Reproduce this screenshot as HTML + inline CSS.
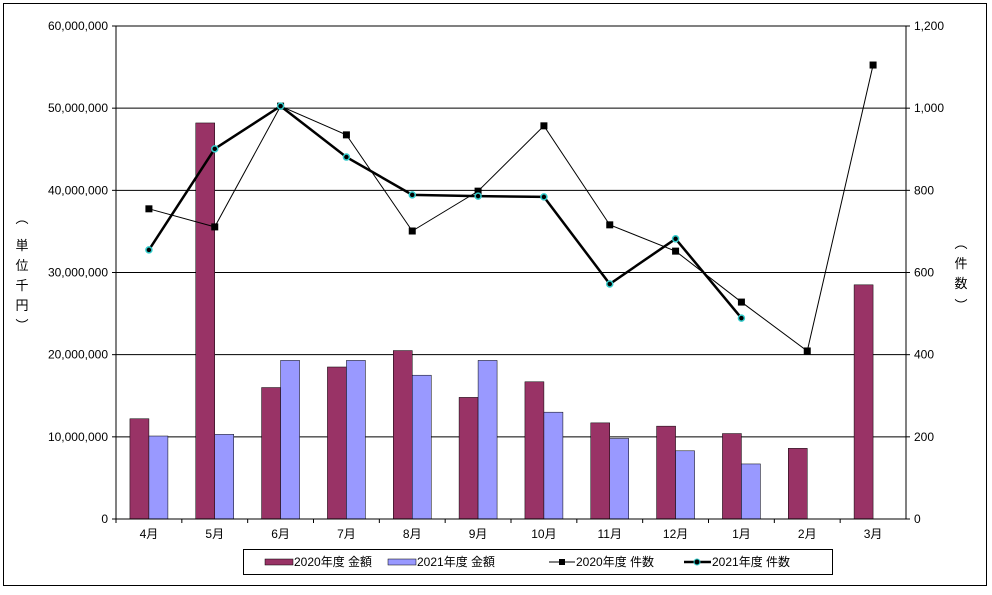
<!DOCTYPE html>
<html><head><meta charset="utf-8"><style>
body{margin:0;background:#fff;font-family:"Liberation Sans","Noto Sans CJK JP",sans-serif;}
</style></head><body>
<svg id="c" width="992" height="590" xmlns="http://www.w3.org/2000/svg" font-family="Liberation Sans, Noto Sans CJK JP, sans-serif" font-size="12">
<rect x="3.5" y="3.5" width="983" height="582" fill="#fff" stroke="#000"/>
<g id="grid"></g><g id="bars"></g><g id="lines"></g><g id="axes"></g>
<g font-size="13" text-anchor="middle">
<text x="22" y="223">︵</text><text x="22" y="250">単</text><text x="22" y="270">位</text><text x="22" y="290">千</text><text x="22" y="310">円</text><text x="22" y="330">︶</text></g>
<g font-size="13" text-anchor="middle">
<text x="961" y="248">︵</text><text x="961" y="268">件</text><text x="961" y="288">数</text><text x="961" y="310">︶</text></g>
<g>
<rect x="243.5" y="549.5" width="589" height="25" fill="#fff" stroke="#000"/>
<rect x="265" y="559" width="28" height="6" fill="#993366" stroke="#000" stroke-width="0.5"/>
<text x="294" y="566">2020年度 金額</text>
<rect x="388" y="559" width="28" height="6" fill="#9999ff" stroke="#000" stroke-width="0.5"/>
<text x="417" y="566">2021年度 金額</text>
<line x1="549" y1="562" x2="575" y2="562" stroke="#000"/><rect x="559" y="559" width="6" height="6" fill="#000"/>
<text x="576" y="566">2020年度 件数</text>
<line x1="684" y1="562" x2="711" y2="562" stroke="#000" stroke-width="2.5"/><circle cx="697" cy="562" r="3" fill="#000" stroke="#33cccc"/>
<text x="712" y="566">2021年度 件数</text>
</g>
</svg>
<script>
const categories=["4月","5月","6月","7月","8月","9月","10月","11月","12月","1月","2月","3月"];
const amount2020=[12200000,48200000,16000000,18500000,20500000,14800000,16700000,11700000,11300000,10400000,8600000,28500000];
const amount2021=[10100000,10300000,19300000,19300000,17500000,19300000,13000000,9800000,8300000,6700000,null,null];
const count2020=[755,711,1005,935,701,798,957,716,652,528,409,1105];
const count2021=[655,901,1005,881,789,786,784,572,682,489,null,null];
const leftTicks=["0","10,000,000","20,000,000","30,000,000","40,000,000","50,000,000","60,000,000"];
const rightTicks=["0","200","400","600","800","1,000","1,200"];
const NS="http://www.w3.org/2000/svg";
const L=116,R=906,T=26,B=519,W=(R-L)/12;
const yL=v=>B-v/60000000*(B-T), yR=v=>B-v/1200*(B-T), xC=i=>L+W*(i+0.5);
function mk(p,tag,a){const e=document.createElementNS(NS,tag);for(const k in a)e.setAttribute(k,a[k]);document.getElementById(p).appendChild(e);return e;}
for(let i=0;i<=6;i++){const y=B-i*(B-T)/6;
 if(i>0){const g=mk('grid','line',{x1:L,x2:R,y1:y,y2:y,stroke:'#000','stroke-width':1});}
 const t1=mk('axes','text',{x:L-8,y:y+4,'text-anchor':'end'});t1.textContent=leftTicks[i];
 const t2=mk('axes','text',{x:R+8,y:y+4,'text-anchor':'start'});t2.textContent=rightTicks[i];
 mk('axes','line',{x1:L-4,x2:L,y1:y,y2:y,stroke:'#000'});mk('axes','line',{x1:R,x2:R+4,y1:y,y2:y,stroke:'#000'});}
mk('axes','line',{x1:L,x2:L,y1:T,y2:B,stroke:'#000'});mk('axes','line',{x1:R,x2:R,y1:T,y2:B,stroke:'#000'});
mk('axes','line',{x1:L,x2:R,y1:B,y2:B,stroke:'#000'});
categories.forEach((c,i)=>{const t=mk('axes','text',{x:xC(i),y:B+19,'text-anchor':'middle'});t.textContent=c;
 mk('axes','line',{x1:L+W*i,x2:L+W*i,y1:B,y2:B+4,stroke:'#000'});
 if(amount2020[i]!=null){const b=mk('bars','rect',{x:xC(i)-19,y:yL(amount2020[i]),width:19,height:B-yL(amount2020[i]),fill:'#993366',stroke:'#000','stroke-width':0.5});}
 if(amount2021[i]!=null){const b=mk('bars','rect',{x:xC(i),y:yL(amount2021[i]),width:19,height:B-yL(amount2021[i]),fill:'#9999ff',stroke:'#000','stroke-width':0.5});}
});
function pts(a){return a.map((v,i)=>v==null?null:xC(i)+','+yR(v)).filter(Boolean).join(' ');}
const l1=mk('lines','polyline',{points:pts(count2020),fill:'none',stroke:'#000','stroke-width':1});

const l2=mk('lines','polyline',{points:pts(count2021),fill:'none',stroke:'#000','stroke-width':2.5});

count2020.forEach((v,i)=>{if(v==null)return;const m=mk('lines','rect',{x:xC(i)-3.5,y:yR(v)-3.5,width:7,height:7,fill:'#000'});});
count2021.forEach((v,i)=>{if(v==null)return;const m=mk('lines','circle',{cx:xC(i),cy:yR(v),r:3,fill:'#000',stroke:'#33cccc','stroke-width':1.5});});
</script>
</body></html>
